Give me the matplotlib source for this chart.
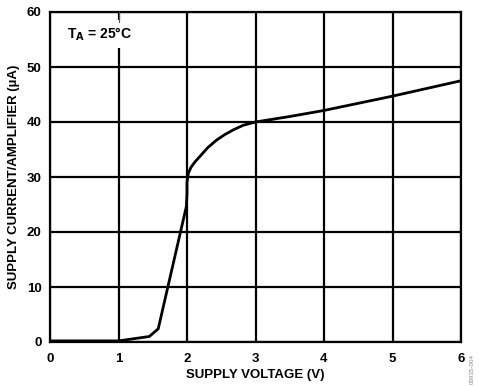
import numpy as np
import matplotlib
matplotlib.use('Agg')
from matplotlib import pyplot as plt

plt.rcParams['font.family'] = ['Liberation Sans', 'DejaVu Sans']
plt.rcParams['font.weight'] = 'bold'

# 读图得到的数据点
supply_v = [0.0, 1.0, 1.45, 1.58, 1.99, 2.0, 2.0, 2.02, 2.06, 2.12,
            2.2, 2.3, 2.43, 2.55, 2.68, 2.82, 3.0, 3.5, 4.0, 4.5, 5.0, 5.5, 6.0]
supply_i = [0.2, 0.2, 1.0, 2.4, 24.6, 27.0, 29.0, 30.7, 31.8, 32.8,
            33.9, 35.3, 36.7, 37.7, 38.6, 39.4, 40.0, 41.0, 42.1, 43.4, 44.7, 46.1, 47.5]
x_ticks = [0, 1, 2, 3, 4, 5, 6]
y_ticks = [0, 10, 20, 30, 40, 50, 60]

fig = plt.figure(figsize=(4.79, 3.87), dpi=100)
ax = fig.add_axes([50 / 479, 1 - 342 / 387, 411 / 479, 330 / 387])

ax.plot(supply_v, supply_i, color='black', lw=2.0, zorder=3)

ax.set_xlim(0, 6)
ax.set_ylim(0, 60)
ax.set_xticks(x_ticks)
ax.set_yticks(y_ticks)
ax.grid(True, color='black', lw=1.6)
for s in ax.spines.values():
	s.set_linewidth(1.6)
ax.tick_params(axis='x', length=0, labelsize=9.5, pad=8)
ax.tick_params(axis='y', length=0, labelsize=9.5, pad=6)
for lab in ax.get_xticklabels() + ax.get_yticklabels():
	lab.set_fontweight('bold')

ax.set_xlabel('SUPPLY VOLTAGE (V)', fontsize=9.5, fontweight='bold', labelpad=3)
ax.set_ylabel('SUPPLY CURRENT/AMPLIFIER (µA)', fontsize=9.5, fontweight='bold', labelpad=5)

# 温度标签，白底遮住网格线
ax.text(0.25, 56.0, r'T$_\mathbf{A}$ = 25°C', fontsize=10, fontweight='bold',
	va='center', ha='left', zorder=4,
	bbox=dict(facecolor='white', edgecolor='none', pad=4))
ax.plot([1, 1], [58.2, 60], color='#555555', lw=0.8, zorder=5)

fig.text(472 / 479, 1 - 369 / 387, '00935-004', rotation=90, fontsize=4.5,
	color='#888888', ha='center', va='center', fontweight='normal')

fig.savefig('out.png', dpi=100)
